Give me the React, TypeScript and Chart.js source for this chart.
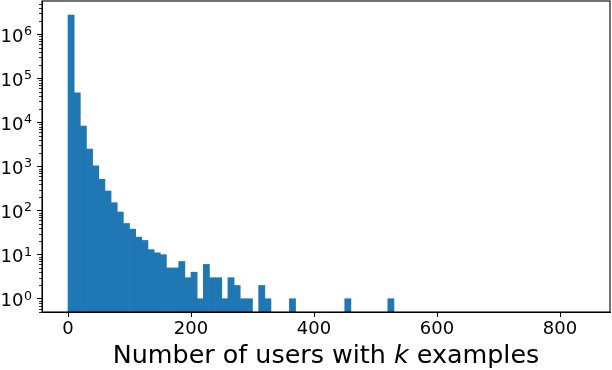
import React, { useEffect, useRef } from "react";
import { Chart, registerables } from "chart.js";

Chart.register(...registerables);

// Histogram bins (width 10), bin starts and counts per bin
const BIN_WIDTH = 10;
const binStarts: number[] = Array.from({ length: 53 }, (_, i) => i * BIN_WIDTH);
const counts: number[] = [
  2740000, 47200, 8300, 2500, 1040, 510, 278, 151, 93, 51,
  38, 25, 21, 13, 11, 10, 5, 5, 7, 3,
  4, 1, 6, 3, 3, 1, 3, 2, 1, 1,
  0, 2, 1, 0, 0, 0, 1, 0, 0, 0,
  0, 0, 0, 0, 0, 1, 0, 0, 0, 0,
  0, 0, 1,
];
const xTicks: number[] = [0, 200, 400, 600, 800];
const yTickExponents: number[] = [0, 1, 2, 3, 4, 5, 6];
const xTitleParts: { text: string; italic: boolean }[] = [
  { text: "Number of users with ", italic: false },
  { text: "k", italic: true },
  { text: " examples", italic: false },
];

const FONT = "'DejaVu Sans', sans-serif";
const TITLE_SIZE = 25.4;
const TICK_SIZE = 18;

const framePlugin = {
  id: "frame",
  afterDraw(chart: any) {
    const { ctx, chartArea } = chart;
    const y = chart.scales.y;
    ctx.save();
    // minor ticks on log axis
    ctx.strokeStyle = "#000";
    ctx.lineWidth = 0.8;
    for (let d = -1; d <= 7; d++) {
      for (let m = 2; m <= 9; m++) {
        const v = m * Math.pow(10, d);
        if (v < y.min || v > y.max) continue;
        const py = Math.round(y.getPixelForValue(v)) + 0.5;
        ctx.beginPath();
        ctx.moveTo(chartArea.left - 3, py);
        ctx.lineTo(chartArea.left, py);
        ctx.stroke();
      }
    }
    // full frame (spines)
    ctx.lineWidth = 1.1;
    ctx.strokeStyle = "#000";
    ctx.strokeRect(chartArea.left, chartArea.top, chartArea.right - chartArea.left, chartArea.bottom - chartArea.top);

    ctx.fillStyle = "#000";
    ctx.textBaseline = "alphabetic";
    ctx.textAlign = "left";

    // y tick labels 10^n with superscript exponent
    const baseFont = `${TICK_SIZE}px ${FONT}`;
    const supFont = `${TICK_SIZE * 0.7}px ${FONT}`;
    yTickExponents.forEach((e) => {
      const py = y.getPixelForValue(Math.pow(10, e));
      const exp = String(e);
      ctx.font = baseFont;
      const w1 = ctx.measureText("10").width;
      ctx.font = supFont;
      const w2 = ctx.measureText(exp).width;
      const right = chartArea.left - 10.5;
      const x0 = right - w1 - w2;
      const base = py + 7.2;
      ctx.font = baseFont;
      ctx.fillText("10", x0, base);
      ctx.font = supFont;
      ctx.fillText(exp, x0 + w1 + 0.5, base - 6.3);
    });

    // x-axis title with italic k
    const fonts = xTitleParts.map((p) => `${p.italic ? "italic " : ""}${TITLE_SIZE}px ${FONT}`);
    let total = 0;
    const widths = xTitleParts.map((p, i) => {
      ctx.font = fonts[i];
      const w = ctx.measureText(p.text).width;
      total += w;
      return w;
    });
    let x = (chartArea.left + chartArea.right) / 2 - total / 2;
    const baseY = chart.height - 7;
    xTitleParts.forEach((p, i) => {
      ctx.font = fonts[i];
      ctx.fillText(p.text, x, baseY);
      x += widths[i];
    });
    ctx.restore();
  },
};

export default function App() {
  const ref = useRef<HTMLCanvasElement | null>(null);
  useEffect(() => {
    if (!ref.current) return;
    const data = binStarts.map((s, i) => ({ x: s + BIN_WIDTH / 2, y: counts[i] > 0 ? counts[i] : null }));
    const chart = new Chart(ref.current, {
      type: "bar",
      data: {
        datasets: [
          {
            data: data as any,
            backgroundColor: "#1f77b4",
            borderWidth: 0,
            barPercentage: 1,
            categoryPercentage: 1,
          },
        ],
      },
      options: {
        animation: false,
        responsive: false,
        devicePixelRatio: 1,
        layout: { padding: { top: 1, right: 2, left: 0, bottom: 0 } },
        plugins: { legend: { display: false }, tooltip: { enabled: false } },
        scales: {
          x: {
            type: "linear",
            offset: false,
            min: -42.3,
            max: 881.3,
            afterBuildTicks: (s: any) => {
              s.ticks = xTicks.map((v) => ({ value: v }));
            },
            afterFit: (s: any) => {
              s.height = 58;
              s.paddingLeft = 0;
              s.paddingRight = 0;
            },
            grid: { display: true, offset: false, drawOnChartArea: false, drawTicks: true, tickLength: 5, tickColor: "#000", tickWidth: 1 },
            border: { display: true, color: "#000", width: 1 },
            ticks: { color: "#000", font: { family: FONT, size: TICK_SIZE }, padding: 2, maxRotation: 0, autoSkip: false },
            title: { display: false },
          },
          y: {
            type: "logarithmic",
            min: 0.5,
            max: 5.7e6,
            afterBuildTicks: (s: any) => {
              s.ticks = yTickExponents.map((e) => ({ value: Math.pow(10, e) }));
            },
            afterFit: (s: any) => {
              s.width = 42;
              s.paddingTop = 0;
              s.paddingBottom = 0;
            },
            grid: { display: true, drawOnChartArea: false, drawTicks: true, tickLength: 5, tickColor: "#000", tickWidth: 1 },
            border: { display: true, color: "#000", width: 1 },
            ticks: {
              color: "#000",
              font: { family: FONT, size: TICK_SIZE },
              padding: 5,
              autoSkip: false,
              callback: () => "",
            },
          },
        },
      },
      plugins: [framePlugin],
    });
    return () => chart.destroy();
  }, []);
  return (
    <div style={{ position: "absolute", left: 0, top: 0, width: 612, height: 370, background: "#fff" }}>
      <canvas ref={ref} width={612} height={370} style={{ width: 612, height: 370 }} />
    </div>
  );
}
